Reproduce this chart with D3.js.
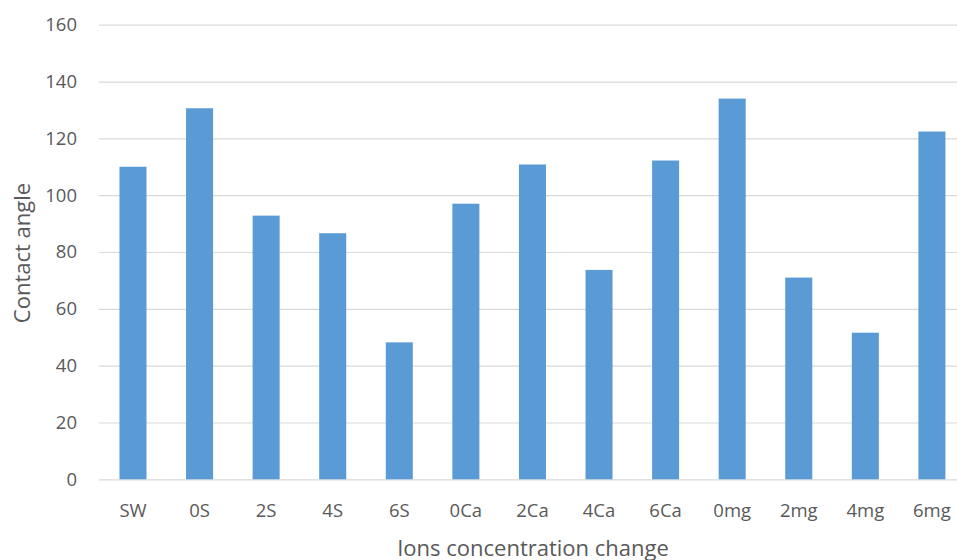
<!DOCTYPE html>
<html><head><meta charset="utf-8">
<script src="https://cdn.jsdelivr.net/npm/d3@7"></script>
<style>body{margin:0;background:#fff}svg{display:block}</style>
</head><body>
<svg id="c" width="957" height="560"></svg>
<script>
const categories = ["SW","0S","2S","4S","6S","0Ca","2Ca","4Ca","6Ca","0mg","2mg","4mg","6mg"];
const contactAngle = [110, 130.6, 92.8, 86.6, 48.2, 97, 110.8, 73.7, 112.2, 134, 71, 51.6, 122.4];
const yTicks = [0,20,40,60,80,100,120,140,160];
const xTitle = "Ions concentration change";
const yTitle = "Contact angle";

const svg = d3.select("#c");
const font = "'Open Sans', 'Noto Sans', sans-serif";
const x = d3.scaleBand().domain(categories).range([99.7, 965.2]).paddingInner(0.594).paddingOuter(0.297);
const y = d3.scaleLinear().domain([0,160]).range([479.3, 24.7]);

const grid = svg.append("g").attr("transform","translate(99,0)")
  .call(d3.axisLeft(y).tickValues(yTicks).tickSize(-870).tickFormat(""));
grid.select(".domain").remove();
grid.selectAll("line").attr("stroke","#d9d9d9").attr("stroke-width",1.2);

svg.append("g").selectAll("rect").data(categories).join("rect")
  .attr("x", d => x(d)).attr("width", x.bandwidth())
  .attr("y", (d,i) => y(contactAngle[i])).attr("height", (d,i) => y(0) - y(contactAngle[i]))
  .attr("fill", "#5b9bd5");

const ya = svg.append("g").attr("transform","translate(77,0)")
  .call(d3.axisLeft(y).tickValues(yTicks).tickSize(0).tickPadding(0));
ya.select(".domain").remove();
ya.selectAll("text").attr("font-family",font).attr("font-size",18.5).attr("fill","#595959");

const xa = svg.append("g").attr("transform","translate(0,479.3)")
  .call(d3.axisBottom(x).tickSize(0).tickPadding(24.5));
xa.select(".domain").remove();
xa.selectAll("text").attr("font-family",font).attr("font-size",18.5).attr("fill","#595959");

svg.append("text").attr("x",533).attr("y",556).attr("text-anchor","middle")
  .attr("font-family",font).attr("font-size",22).attr("fill","#595959").text(xTitle);
svg.append("text").attr("transform","translate(30,253) rotate(-90)").attr("text-anchor","middle")
  .attr("font-family",font).attr("font-size",22).attr("fill","#595959").text(yTitle);
</script>
</body></html>
